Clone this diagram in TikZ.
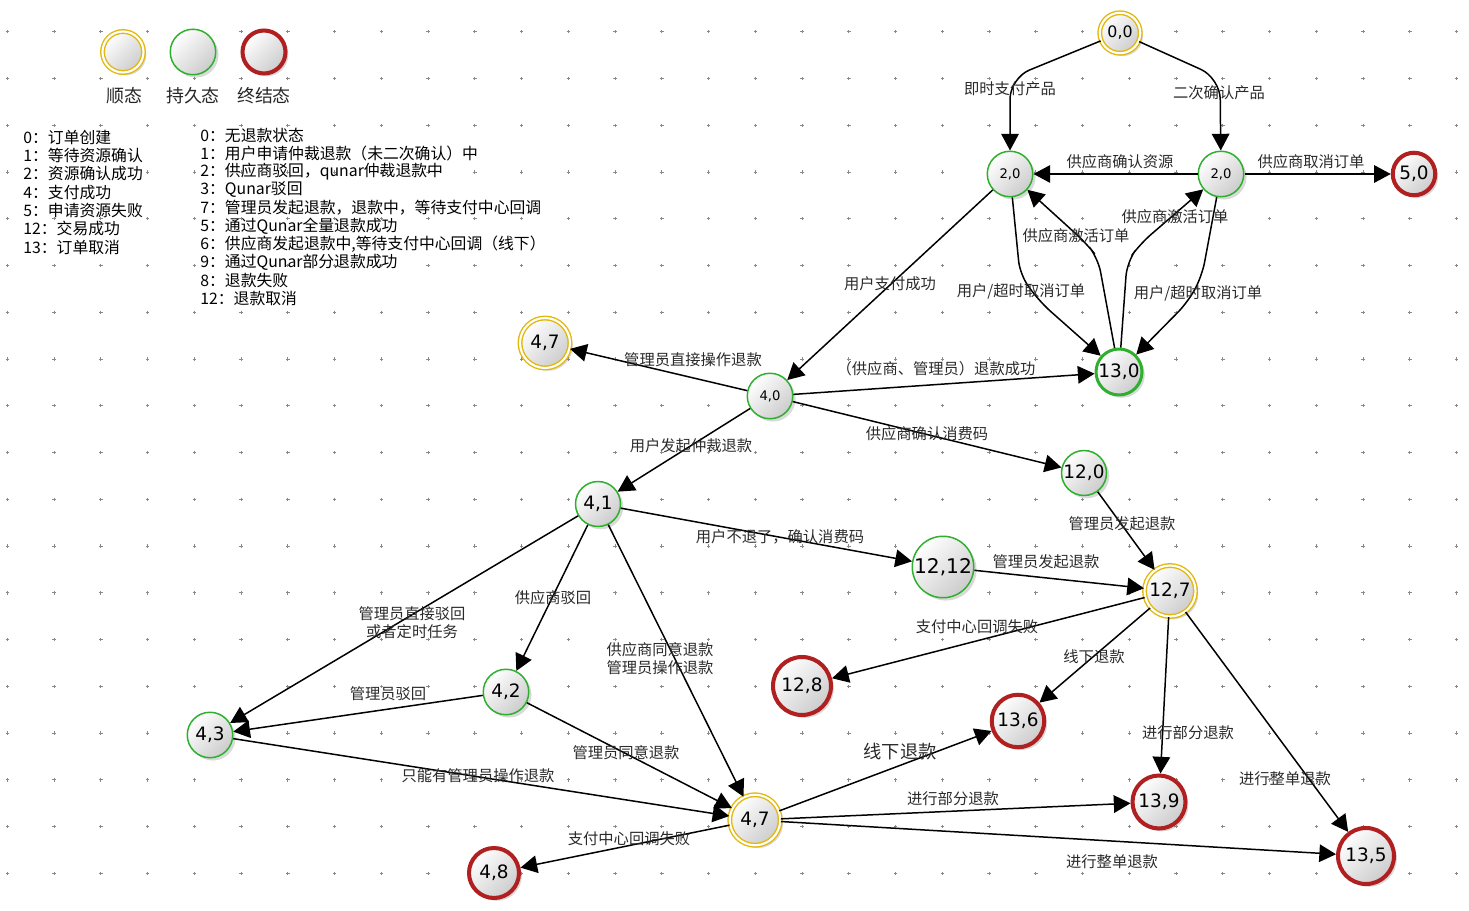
\documentclass[tikz,border=0pt]{standalone}
\usepackage{fontspec}
\setmainfont{Noto Sans CJK SC}
\newfontfamily\numfont{DejaVu Sans}
\usetikzlibrary{positioning, arrows.meta, shadows}

\definecolor{shungold}{HTML}{E2B80C}
\definecolor{chigreen}{HTML}{2EAF2E}
\definecolor{endred}{HTML}{B02020}
\definecolor{dotgray}{HTML}{8A8A8A}
\definecolor{lblgray}{HTML}{2A2A2A}

\begin{document}
\begin{tikzpicture}[x=0.02cm, y=-0.02cm, >={Triangle[length=9.5pt, width=10pt]},
  stbase/.style={circle, inner sep=0pt, top color=white, bottom color=black!20, shading angle=45,
    drop shadow={shadow xshift=1.6pt, shadow yshift=-1.6pt, opacity=0.3},
    font=\numfont\fontsize{10.5}{12}\selectfont},
  shunstate/.style={stbase, draw=shungold, line width=0.8pt, double=white, double distance=1.2pt},
  chistate/.style={stbase, draw=chigreen, line width=0.85pt},
  chibold/.style={stbase, draw=chigreen, line width=1.7pt},
  endstate/.style={stbase, draw=endred, line width=2.3pt},
  small/.style={font=\numfont\fontsize{7.5}{9}\selectfont},
  edge/.style={->, line width=0.85pt},
  lbl/.style={text=lblgray, font=\fontsize{8.7}{10.2}\selectfont, align=center, inner sep=0pt},
  keytxt/.style={text=black!85, font=\fontsize{10.2}{12}\selectfont, inner sep=0pt},
  legtxt/.style={text=black, font=\fontsize{9}{10.4}\selectfont, inner sep=0pt, anchor=west}]

  \useasboundingbox (0,0) rectangle (1469,911);

  % Dot grid
  \foreach \i in {0,...,31}
    \foreach \j in {0,...,18}
      \draw[dotgray, line width=0.55pt] ({7.3+46.75*\i-1.7},{31.8+46.75*\j}) -- ++(3.4,0)
        ({7.3+46.75*\i},{31.8+46.75*\j-1.7}) -- ++(0,3.4);

  % Legend
  \node[shunstate, minimum size=0.82cm] (kshun) at (123,52) {};
  \node[chistate, minimum size=0.91cm] (kchi) at (193,52) {};
  \node[endstate, minimum size=0.86cm] (kend) at (264,52) {};
  \node[keytxt] (tshun) at (124,96) {顺态};
  \node[keytxt] (tchi) at (193,96) {持久态};
  \node[keytxt] (tend) at (264,96) {终结态};

  \foreach \t [count=\i] in {0：订单创建, 1：等待资源确认, 2：资源确认成功, 4：支付成功,
      5：申请资源失败, 12：交易成功, 13：订单取消}
    \node[legtxt] (a\i) at (23,{137.3+18.3*(\i-1)}) {\t};
  \foreach \t [count=\i] in {0：无退款状态, 1：用户申请仲裁退款（未二次确认）中,
      2：供应商驳回，qunar仲裁退款中, 3：Qunar驳回, 7：管理员发起退款，退款中，等待支付中心回调,
      5：通过Qunar全量退款成功, {6：供应商发起退款中,等待支付中心回调（线下）},
      9：通过Qunar部分退款成功, 8：退款失败, 12：退款取消}
    \node[legtxt] (b\i) at (200,{135+18.2*(\i-1)}) {\t};

  % States
  \node[shunstate, minimum size=0.81cm, font=\numfont\fontsize{9}{11}\selectfont] (s00) at (1120,33) {0,0};
  \node[chistate, minimum size=0.91cm, small] (s20a) at (1010,174) {2,0};
  \node[chistate, minimum size=0.91cm, small] (s20b) at (1221,174) {2,0};
  \node[endstate, minimum size=0.85cm] (s50) at (1414,174) {5,0};
  \node[chibold, minimum size=0.92cm] (s130) at (1119,372) {13,0};
  \node[shunstate, minimum size=1.0cm] (s47a) at (545,343) {4,7};
  \node[chistate, minimum size=0.91cm, small] (s40) at (770,396) {4,0};
  \node[chistate, minimum size=0.9cm] (s120) at (1084,473) {12,0};
  \node[chistate, minimum size=0.9cm] (s41) at (598,504) {4,1};
  \node[chistate, minimum size=1.23cm, font=\numfont\fontsize{11.5}{13}\selectfont] (s1212) at (943,567) {12,12};
  \node[shunstate, minimum size=1.02cm] (s127) at (1170,591) {12,7};
  \node[endstate, minimum size=1.16cm] (s128) at (802,686) {12,8};
  \node[endstate, minimum size=1.05cm] (s136) at (1018,721) {13,6};
  \node[chistate, minimum size=0.91cm] (s42) at (506,692) {4,2};
  \node[chistate, minimum size=0.91cm] (s43) at (210,735) {4,3};
  \node[shunstate, minimum size=1.01cm] (s47b) at (755,820) {4,7};
  \node[endstate, minimum size=1.06cm] (s139) at (1159,802) {13,9};
  \node[endstate, minimum size=1.12cm] (s135) at (1366,856) {13,5};
  \node[endstate, minimum size=1.0cm] (s48) at (494,873) {4,8};

  % Bends
  \coordinate (b1) at (1010,78);
  \coordinate (b2) at (1220,78);
  \coordinate (c1) at (1020,275);
  \coordinate (c2) at (1040,302);
  \coordinate (c3) at (1098,258);
  \coordinate (c4) at (1086,243);
  \coordinate (c5) at (1127,262);
  \coordinate (c6) at (1140,244);
  \coordinate (c7) at (1202,276);
  \coordinate (c8) at (1188,302);

  % Transitions
  \draw[edge, rounded corners=12pt] (s00) -- (b1) -- (s20a);
  \draw[edge, rounded corners=12pt] (s00) -- (b2) -- (s20b);
  \draw[edge] (s20b) -- (s20a);
  \draw[edge] (s20b) -- (s50);
  \draw[edge, rounded corners=8pt] (s20a) -- (c1) -- (c2) -- (s130);
  \draw[edge, rounded corners=8pt] (s130) -- (c3) -- (c4) -- (s20a);
  \draw[edge, rounded corners=8pt] (s130) -- (c5) -- (c6) -- (s20b);
  \draw[edge, rounded corners=8pt] (s20b) -- (c7) -- (c8) -- (s130);
  \draw[edge] (s20a) -- (s40);
  \draw[edge] (s40) -- (s47a);
  \draw[edge] (s40) -- (s130);
  \draw[edge] (s40) -- (s120);
  \draw[edge] (s40) -- (s41);
  \draw[edge] (s41) -- (s1212);
  \draw[edge] (s120) -- (s127);
  \draw[edge] (s1212) -- (s127);
  \draw[edge] (s127) -- (s128);
  \draw[edge] (s127) -- (s136);
  \draw[edge] (s127) -- (s139);
  \draw[edge] (s127) -- (s135);
  \draw[edge] (s41) -- (s43);
  \draw[edge] (s41) -- (s42);
  \draw[edge] (s41) -- (s47b);
  \draw[edge] (s42) -- (s43);
  \draw[edge] (s42) -- (s47b);
  \draw[edge] (s43) -- (s47b);
  \draw[edge] (s47b) -- (s48);
  \draw[edge] (s47b) -- (s136);
  \draw[edge] (s47b) -- (s139);
  \draw[edge] (s47b) -- (s135);

  % Labels
  \node[lbl] (l1) at (1010,89) {即时支付产品};
  \node[lbl] (l2) at (1219,93) {二次确认产品};
  \node[lbl] (l3) at (1120,162) {供应商确认资源};
  \node[lbl] (l4) at (1311,162) {供应商取消订单};
  \node[lbl] (l5) at (1175,217) {供应商激活订单};
  \node[lbl] (l6) at (1076,236) {供应商激活订单};
  \node[lbl] (l7) at (1021,291) {用户/超时取消订单};
  \node[lbl] (l8) at (1198,293) {用户/超时取消订单};
  \node[lbl] (l9) at (890,284) {用户支付成功};
  \node[lbl] (l10) at (693,360) {管理员直接操作退款};
  \node[lbl] (l11) at (936,369) {（供应商、管理员）退款成功};
  \node[lbl] (l12) at (691,446) {用户发起仲裁退款};
  \node[lbl] (l13) at (927,434) {供应商确认消费码};
  \node[lbl] (l14) at (780,537) {用户不退了，确认消费码};
  \node[lbl] (l15) at (1122,524) {管理员发起退款};
  \node[lbl] (l16) at (1046,562) {管理员发起退款};
  \node[lbl] (l17) at (977,627) {支付中心回调失败};
  \node[lbl] (l18) at (1094,657) {线下退款};
  \node[lbl] (l19) at (1188,733) {进行部分退款};
  \node[lbl] (l20) at (1285,779) {进行整单退款};
  \node[lbl] (l21) at (412,623) {管理员直接驳回\\或者定时任务};
  \node[lbl] (l22) at (553,598) {供应商驳回};
  \node[lbl] (l23) at (660,659) {供应商同意退款\\管理员操作退款};
  \node[lbl] (l24) at (388,694) {管理员驳回};
  \node[lbl] (l25) at (626,753) {管理员同意退款};
  \node[lbl] (l26) at (478,776) {只能有管理员操作退款};
  \node[lbl] (l27) at (629,839) {支付中心回调失败};
  \node[lbl, font=\fontsize{10.4}{12}\selectfont] (l28) at (900,752) {线下退款};
  \node[lbl] (l29) at (953,799) {进行部分退款};
  \node[lbl] (l30) at (1112,862) {进行整单退款};
\end{tikzpicture}
\end{document}
